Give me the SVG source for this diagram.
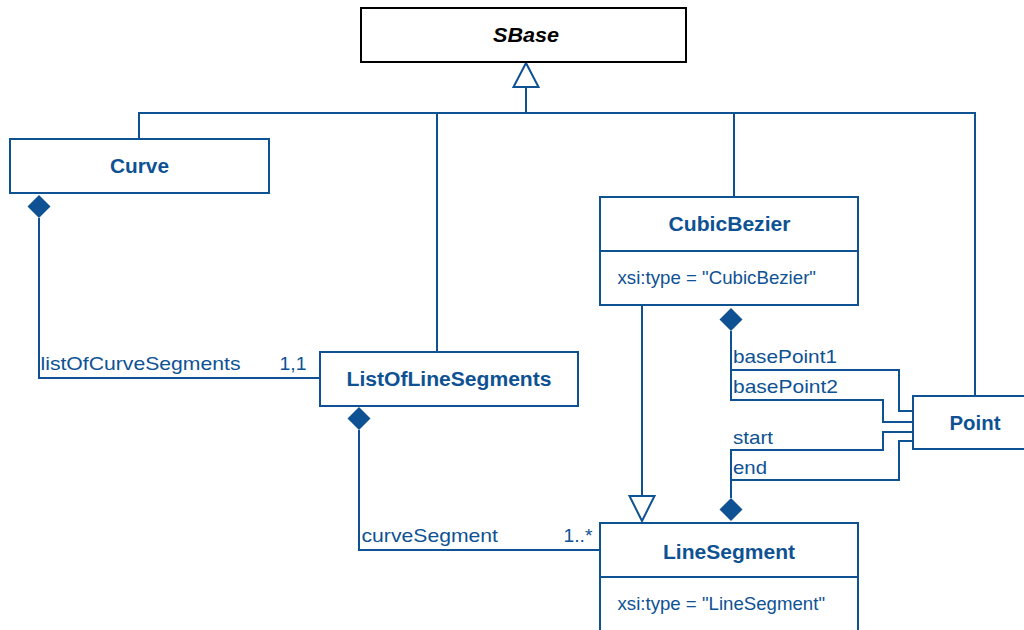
<svg xmlns="http://www.w3.org/2000/svg" width="1024" height="630" viewBox="0 0 1024 630">
<style>
.box{fill:#fff;stroke:#0e5294;stroke-width:2}
.sbase{fill:#fff;stroke:#000;stroke-width:2}
.ln{fill:none;stroke:#0e5294;stroke-width:2}
.dia{fill:#0e5294;stroke:none}
.tri{fill:#fff;stroke:#0e5294;stroke-width:2}
.name{font-family:"Liberation Sans",Arial,sans-serif;font-weight:bold;font-size:20px;fill:#0e5294;text-anchor:middle}
.attr{font-family:"Liberation Sans",Arial,sans-serif;font-size:19px;fill:#0e5294}
.lbl{font-family:"Liberation Sans",Arial,sans-serif;font-size:19px;fill:#0e5294}
</style>
<rect width="1024" height="630" fill="#fff"/>
<g id="connectors">
  <!-- generalization bus -->
  <path class="ln" d="M139,138 V113 H975 V395"/>
  <path class="ln" d="M437,113 V352"/>
  <path class="ln" d="M734,113 V197"/>
  <path class="ln" d="M526,87 V113"/>
  <polygon class="tri" points="526,63 513.5,87 538.5,87"/>
  <!-- Curve to ListOfLineSegments -->
  <path class="ln" d="M39,218 V378 H320"/>
  <polygon class="dia" points="39,195 50.5,206.5 39,218 27.5,206.5"/>
  <!-- ListOfLineSegments to LineSegment -->
  <path class="ln" d="M359,430 V550 H600"/>
  <polygon class="dia" points="359,407 370.5,418.5 359,430 347.5,418.5"/>
  <!-- CubicBezier generalization to LineSegment -->
  <path class="ln" d="M642,305 V496"/>
  <polygon class="tri" points="629.5,496 654.5,496 642,521"/>
  <!-- CubicBezier basePoints -->
  <polygon class="dia" points="731,308 742.5,319.5 731,331 719.5,319.5"/>
  <path class="ln" d="M731,331 V400 H883 V422 H913"/>
  <path class="ln" d="M731,370 H899 V411 H913"/>
  <!-- LineSegment start/end -->
  <path class="ln" d="M913,432 H883 V450 H731 V498"/>
  <path class="ln" d="M731,480 H899 V441 H913"/>
  <polygon class="dia" points="731,498 742.5,509.5 731,521 719.5,509.5"/>
  <!-- labels -->
  <text class="lbl" x="40.5" y="370" textLength="200" lengthAdjust="spacingAndGlyphs">listOfCurveSegments</text>
  <text class="lbl" x="279.5" y="370" textLength="27" lengthAdjust="spacingAndGlyphs">1,1</text>
  <text class="lbl" x="361.5" y="542" textLength="136.5" lengthAdjust="spacingAndGlyphs">curveSegment</text>
  <text class="lbl" x="563.5" y="542" textLength="29" lengthAdjust="spacingAndGlyphs">1..*</text>
  <text class="lbl" x="733" y="363" textLength="104" lengthAdjust="spacingAndGlyphs">basePoint1</text>
  <text class="lbl" x="733" y="393" textLength="105" lengthAdjust="spacingAndGlyphs">basePoint2</text>
  <text class="lbl" x="733" y="444" textLength="40" lengthAdjust="spacingAndGlyphs">start</text>
  <text class="lbl" x="733" y="474" textLength="34" lengthAdjust="spacingAndGlyphs">end</text>
</g>
<g id="SBase">
  <rect class="sbase" x="361" y="8" width="325" height="54"/>
  <text x="526" y="42" style="font-family:'Liberation Sans',Arial,sans-serif;font-weight:bold;font-style:italic;font-size:20px;fill:#000;text-anchor:middle" textLength="66" lengthAdjust="spacingAndGlyphs">SBase</text>
</g>
<g id="Curve">
  <rect class="box" x="10" y="139" width="259" height="54"/>
  <text class="name" x="139.5" y="173" textLength="59" lengthAdjust="spacingAndGlyphs">Curve</text>
</g>
<g id="ListOfLineSegments">
  <rect class="box" x="320" y="352" width="258" height="54"/>
  <text class="name" x="449" y="386" textLength="205" lengthAdjust="spacingAndGlyphs">ListOfLineSegments</text>
</g>
<g id="CubicBezier">
  <rect class="box" x="600" y="197" width="258" height="108"/>
  <path class="ln" d="M600,251 H858"/>
  <text class="name" x="729.5" y="231" textLength="122" lengthAdjust="spacingAndGlyphs">CubicBezier</text>
  <text class="attr" x="617.5" y="283.5" textLength="198.5" lengthAdjust="spacingAndGlyphs">xsi:type = "CubicBezier"</text>
</g>
<g id="Point">
  <rect class="box" x="913" y="396" width="125" height="53"/>
  <text class="name" x="975" y="429.5" textLength="51" lengthAdjust="spacingAndGlyphs">Point</text>
</g>
<g id="LineSegment">
  <rect class="box" x="600" y="523" width="258" height="120"/>
  <path class="ln" d="M600,577 H858"/>
  <text class="name" x="729" y="558.5" textLength="132" lengthAdjust="spacingAndGlyphs">LineSegment</text>
  <text class="attr" x="617.5" y="610" textLength="207.5" lengthAdjust="spacingAndGlyphs">xsi:type = "LineSegment"</text>
</g>
</svg>
